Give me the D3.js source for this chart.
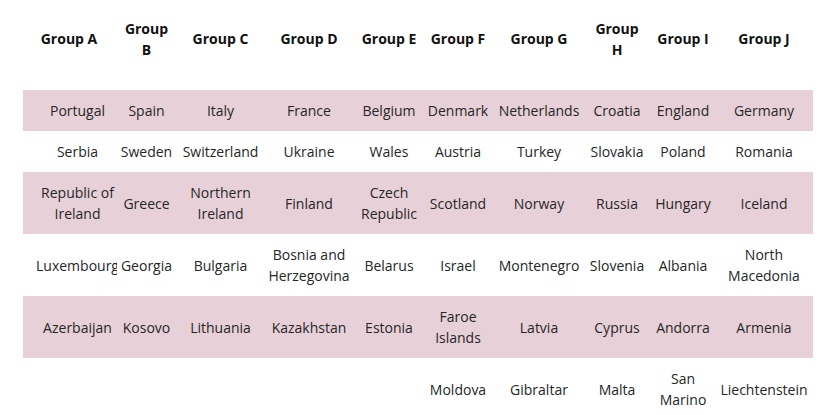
<!DOCTYPE html>
<html>
<head>
<meta charset="utf-8">
<script src="https://cdn.jsdelivr.net/npm/d3@7"></script>
<style>
	html, body { margin: 0; padding: 0; background: #fff; }
	svg { display: block; font-family: "Open Sans", sans-serif; }
	text.head { font-size: 14px; font-weight: bold; fill: #111; }
	text.cell { font-size: 14px; fill: #262626; }
</style>
</head>
<body>
<div id="chart"></div>
<script>
const groups = ["Group A", "Group B", "Group C", "Group D", "Group E", "Group F", "Group G", "Group H", "Group I", "Group J"];
const pot1 = ["Portugal", "Spain", "Italy", "France", "Belgium", "Denmark", "Netherlands", "Croatia", "England", "Germany"];
const pot2 = ["Serbia", "Sweden", "Switzerland", "Ukraine", "Wales", "Austria", "Turkey", "Slovakia", "Poland", "Romania"];
const pot3 = ["Republic of Ireland", "Greece", "Northern Ireland", "Finland", "Czech Republic", "Scotland", "Norway", "Russia", "Hungary", "Iceland"];
const pot4 = ["Luxembourg", "Georgia", "Bulgaria", "Bosnia and Herzegovina", "Belarus", "Israel", "Montenegro", "Slovenia", "Albania", "North Macedonia"];
const pot5 = ["Azerbaijan", "Kosovo", "Lithuania", "Kazakhstan", "Estonia", "Faroe Islands", "Latvia", "Cyprus", "Andorra", "Armenia"];
const pot6 = ["", "", "", "", "", "Moldova", "Gibraltar", "Malta", "San Marino", "Liechtenstein"];
const pots = [pot1, pot2, pot3, pot4, pot5, pot6];

const width = 838, height = 415;
const tableLeft = 23, tableRight = 813;
const headerTop = 8, bodyTop = 90;
const lineHeight = 21, cellPad = 10;
// column layout: text centre and wrapping width of each column
const colCenters = [77.5, 146.5, 220.5, 309, 389, 458, 539, 617, 683, 764];
const headCenters = [69, 146.5, 220.5, 309, 389, 458, 539, 617, 683, 764];
const wrapWidths = [80, 53, 80, 80, 58, 62, 82, 55, 60, 88];

const x = d3.scaleOrdinal().domain(groups).range(colCenters);
const xHead = d3.scaleOrdinal().domain(groups).range(headCenters);
const wrapWidth = d3.scaleOrdinal().domain(groups).range(wrapWidths);

const svg = d3.select("#chart")
	.append("svg")
		.attr("width", width)
		.attr("height", height)
		.attr("viewBox", `0 0 ${width} ${height}`);

// text measurement helper
const probe = svg.append("text").attr("class", "cell").attr("visibility", "hidden");
function measure(str, cls) {
	probe.attr("class", cls).text(str);
	return probe.node().getComputedTextLength();
}
function wrap(str, max, cls) {
	if (!str)
		return [];
	let words = str.split(/\s+/), lines = [], line = [];
	for (let word of words) {
		let test = line.concat(word).join(" ");
		if (line.length && measure(test, cls) > max) {
			lines.push(line.join(" "));
			line = [word];
		} else {
			line.push(word);
		}
	}
	if (line.length)
		lines.push(line.join(" "));
	return lines;
}

// clip each column short of its neighbours' text areas
let defs = svg.append("defs");
groups.forEach((g, i) => {
	let left = i > 0 ? x(groups[i - 1]) + wrapWidth(groups[i - 1]) / 2 + 3 : 0;
	let right = i < groups.length - 1 ? x(groups[i + 1]) - wrapWidth(groups[i + 1]) / 2 - 3 : width;
	defs.append("clipPath")
		.attr("id", `col-${i}`)
		.append("rect")
			.attr("x", left)
			.attr("y", 0)
			.attr("width", right - left)
			.attr("height", height);
});

// header row
let headLines = groups.map(g => wrap(g, wrapWidth(g), "head"));
let headHeight = d3.max(headLines, l => l.length) * lineHeight + 2 * cellPad;

let header = svg.append("g").attr("class", "header");
groups.forEach((g, i) => {
	let lines = headLines[i];
	let mid = headerTop + headHeight / 2;
	header.append("text")
		.attr("class", "head")
		.attr("text-anchor", "middle")
		.selectAll("tspan")
		.data(lines)
		.enter()
		.append("tspan")
			.attr("x", xHead(g))
			.attr("y", (d, j) => mid + (j - (lines.length - 1) / 2) * lineHeight)
			.attr("dy", "0.38em")
			.text(d => d);
});

// body rows
let rowLines = pots.map(pot => pot.map((name, i) => wrap(name, wrapWidth(groups[i]), "cell")));
let rowHeights = rowLines.map(row => Math.max(1, d3.max(row, l => l.length)) * lineHeight + 2 * cellPad);
let rowTops = d3.cumsum([bodyTop].concat(rowHeights));

let rows = svg.append("g")
	.attr("class", "body")
	.selectAll("g.row")
	.data(pots)
	.enter()
	.append("g")
		.attr("class", "row")
		.attr("transform", (d, r) => `translate(0, ${rowTops[r]})`);

rows.filter((d, r) => r % 2 === 0)
	.append("rect")
		.attr("x", tableLeft)
		.attr("width", tableRight - tableLeft)
		.attr("height", (d, r) => rowHeights[r * 2])
		.attr("fill", "#e8d0d8");

rows.each(function(pot, r) {
	let row = d3.select(this);
	pot.forEach((name, i) => {
		let lines = rowLines[r][i];
		if (!lines.length)
			return;
		let mid = rowHeights[r] / 2;
		row.append("text")
			.attr("class", "cell")
			.attr("text-anchor", "middle")
			.attr("clip-path", `url(#col-${i})`)
			.selectAll("tspan")
			.data(lines)
			.enter()
			.append("tspan")
				.attr("x", x(groups[i]))
				.attr("y", (d, j) => mid + (j - (lines.length - 1) / 2) * lineHeight)
				.attr("dy", "0.42em")
				.text(d => d);
	});
});

probe.remove();
</script>
</body>
</html>
